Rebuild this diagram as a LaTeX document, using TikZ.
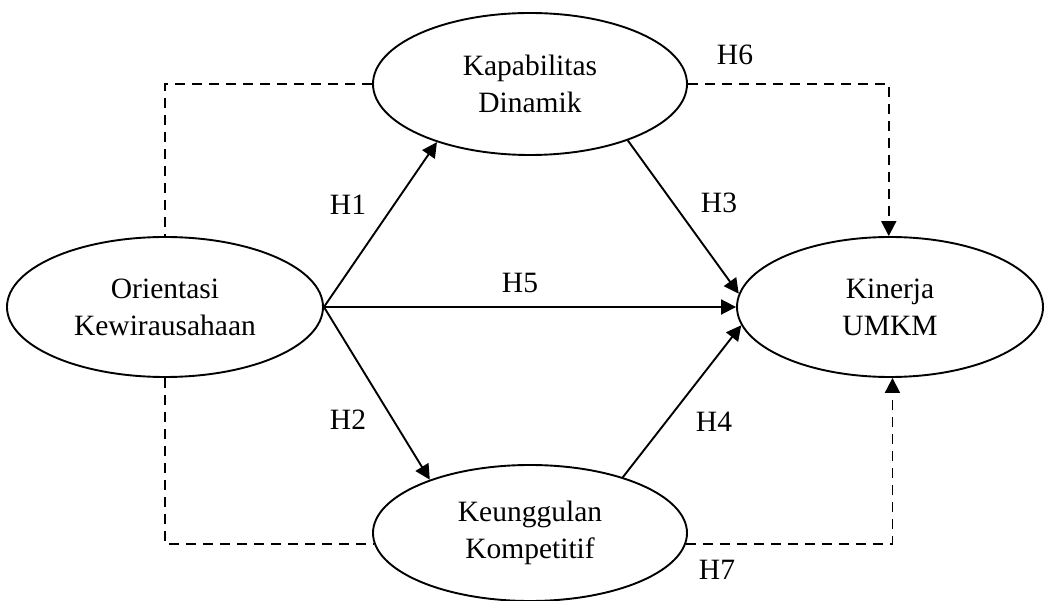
\documentclass[tikz,border=0pt]{standalone}
\usepackage{fontspec}
\setmainfont{Liberation Serif}
\usetikzlibrary{shapes.geometric, arrows.meta, positioning, calc}

\begin{document}
\begin{tikzpicture}[
      x=1pt, y=-1pt,
      var/.style={ellipse, draw=black, line width=1.9pt, inner sep=0pt,
                  font=\fontsize{29.5}{37}\selectfont, align=center},
      arr/.style={-{Triangle[length=15pt,width=15pt]}, line width=1.9pt},
      dsh/.style={line width=1.9pt, dash pattern=on 10pt off 7pt},
      hlab/.style={font=\fontsize{29.5}{35}\selectfont, inner sep=0pt}
    ]
    \useasboundingbox (0,0) rectangle (1044,601);
    \node[var, minimum width=316pt, minimum height=140pt] (ok) at (165,307) {Orientasi\\Kewirausahaan};
    \node[var, minimum width=314pt, minimum height=142pt] (kd) at (530,84)  {Kapabilitas\\Dinamik};
    \node[var, minimum width=314pt, minimum height=136pt] (kk) at (530,533) {Keunggulan\\Kompetitif};
    \node[var, minimum width=306pt, minimum height=140pt] (ku) at (890,307) {Kinerja\\UMKM};
    % direct paths
    \draw[arr] (ok.east) -- (kd.212);
    \draw[arr] (ok.east) -- (ku.west);
    \draw[arr] (ok.east) -- (kk.152);
    \draw[arr] (kd.330) -- (ku.175);
    \draw[arr] (kk.31) -- (ku.187);
    % mediation paths
    \draw[dsh] (kd.west) -| (ok.north);
    \draw[dsh] (ok.south) |- (kk.184);
    \draw[dsh, arr] (kd.east) -| (ku.91);
    \draw[dsh, arr] (kk.356) -| (ku.272);
    % labels
    \node[hlab] (h1) at (348,205) {H1};
    \node[hlab] (h2) at (348,420) {H2};
    \node[hlab] (h3) at (719,203) {H3};
    \node[hlab] (h4) at (714,422) {H4};
    \node[hlab] (h5) at (520,283) {H5};
    \node[hlab] (h6) at (735,55)  {H6};
    \node[hlab] (h7) at (717,570) {H7};
  \end{tikzpicture}
\end{document}
